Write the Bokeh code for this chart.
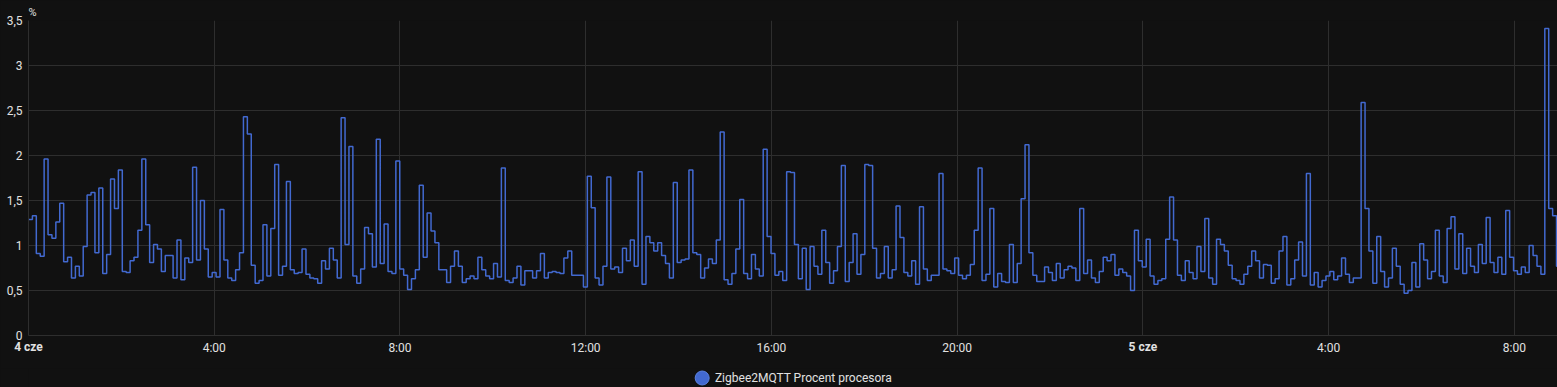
from bokeh.plotting import figure
from bokeh.layouts import column
from bokeh.models import FixedTicker, Range1d, LinearAxis, GlobalInlineStyleSheet
from bokeh.core.properties import value
from bokeh.embed import file_html
from bokeh.resources import INLINE

# ---------------- data ----------------
series_name = "Zigbee2MQTT Procent procesora"
unit_label = "%"

# CPU usage samples, one every SAMPLE_MINUTES starting 4 cze 00:00
cpu_percent = [
    1.29, 1.33, 0.91, 0.88, 1.96, 1.12, 1.08, 1.26, 1.47, 0.82,
    0.87, 0.64, 0.77, 0.66, 0.99, 1.56, 1.59, 0.92, 1.64, 0.69,
    0.90, 1.74, 1.41, 1.84, 0.71, 0.70, 0.83, 0.87, 1.17, 1.96,
    1.23, 0.81, 1.01, 0.96, 0.71, 0.89, 0.89, 0.64, 1.06, 0.62,
    0.86, 0.81, 1.87, 0.84, 1.50, 0.96, 0.65, 0.70, 0.65, 1.40,
    0.84, 0.64, 0.61, 0.73, 0.92, 2.43, 2.24, 0.78, 0.58, 0.61,
    1.23, 0.66, 1.19, 1.90, 0.67, 0.77, 1.71, 0.73, 0.69, 0.70,
    0.96, 0.68, 0.64, 0.63, 0.58, 0.83, 0.74, 0.97, 0.84, 0.64,
    2.42, 1.01, 2.10, 0.66, 0.58, 0.74, 1.20, 1.13, 0.76, 2.18,
    0.80, 1.24, 0.71, 0.69, 1.94, 0.74, 0.67, 0.51, 0.63, 0.73,
    1.67, 0.87, 1.36, 1.16, 1.03, 0.73, 0.73, 0.59, 0.77, 0.94,
    0.77, 0.59, 0.63, 0.66, 0.63, 0.87, 0.73, 0.66, 0.63, 0.80,
    0.65, 1.86, 0.61, 0.59, 0.64, 0.77, 0.56, 0.72, 0.72, 0.64,
    0.72, 0.91, 0.64, 0.70, 0.71, 0.70, 0.69, 0.86, 0.94, 0.67,
    0.67, 0.67, 0.54, 1.77, 1.42, 0.64, 0.56, 0.77, 1.76, 0.74,
    0.76, 0.70, 0.97, 0.83, 1.06, 0.77, 1.82, 0.57, 1.10, 1.03,
    0.94, 1.03, 0.89, 0.80, 0.64, 1.70, 0.81, 0.84, 0.85, 1.84,
    0.92, 0.90, 0.64, 0.75, 0.85, 0.80, 1.06, 2.26, 0.62, 0.57,
    0.69, 0.96, 1.51, 0.69, 0.63, 0.90, 0.74, 0.66, 2.07, 1.10,
    0.91, 0.67, 0.71, 0.61, 1.82, 1.81, 1.01, 0.63, 0.97, 0.51,
    0.99, 0.77, 0.68, 1.17, 0.81, 0.58, 0.72, 0.99, 1.89, 0.60,
    0.81, 1.13, 0.68, 0.90, 1.90, 1.89, 0.97, 0.64, 0.69, 0.99,
    0.64, 0.73, 1.44, 1.09, 0.70, 0.66, 0.83, 0.57, 1.43, 0.74,
    0.61, 0.67, 0.67, 1.80, 0.74, 0.72, 0.69, 0.86, 0.67, 0.63,
    0.67, 0.79, 1.17, 1.86, 0.61, 0.68, 1.41, 0.54, 0.69, 0.60,
    0.59, 1.01, 0.59, 0.80, 1.52, 2.12, 0.92, 0.67, 0.60, 0.60,
    0.76, 0.70, 0.61, 0.80, 0.64, 0.73, 0.77, 0.75, 0.61, 1.41,
    0.69, 0.84, 0.64, 0.59, 0.71, 0.87, 0.83, 0.90, 0.67, 0.74,
    0.70, 0.66, 0.50, 1.17, 0.83, 0.76, 1.07, 0.66, 0.57, 0.61,
    0.63, 1.07, 1.54, 1.06, 0.67, 0.61, 0.83, 0.70, 0.63, 0.99,
    0.71, 1.30, 0.64, 0.57, 1.07, 1.01, 0.94, 0.78, 0.63, 0.61,
    0.57, 0.68, 0.77, 0.94, 0.83, 0.64, 0.79, 0.78, 0.58, 0.63,
    0.94, 1.10, 0.56, 0.63, 0.84, 1.04, 0.66, 1.80, 0.56, 0.70,
    0.54, 0.61, 0.66, 0.71, 0.62, 0.66, 0.86, 0.68, 0.59, 0.64,
    0.64, 2.59, 1.41, 0.94, 0.58, 1.10, 0.71, 0.54, 0.64, 0.97,
    0.77, 0.57, 0.47, 0.50, 0.81, 0.54, 1.02, 0.84, 0.63, 0.71,
    1.17, 0.66, 0.59, 1.19, 1.32, 0.74, 1.13, 0.69, 0.97, 0.77,
    0.70, 1.01, 0.80, 1.31, 0.81, 0.70, 0.87, 0.68, 1.39, 0.87,
    0.72, 0.68, 0.76, 0.70, 1.00, 0.89, 0.77, 0.68, 3.41, 1.41,
    1.33, 0.77,
]
SAMPLE_MINUTES = 5.05          # recording interval
END_HOURS = 32.93              # "now": 5 cze ~08:56, hours after 4 cze 00:00

x_tick_hours = [0, 4, 8, 12, 16, 20, 24, 28, 32]
x_tick_labels = ["4 cze", "4:00", "8:00", "12:00", "16:00", "20:00",
                 "5 cze", "4:00", "8:00"]
day_tick_hours = [0, 24]          # these labels are bold

y_ticks = [0, 0.5, 1, 1.5, 2, 2.5, 3, 3.5]
y_tick_labels = ["0", "0,5", "1", "1,5", "2", "2,5", "3", "3,5"]

# ---------------- styling / layout ----------------
BG = "#111111"
GRID = "#2e2e2e"
TEXT = "#e1e1e1"
LINE = "#4269d0"
FONT = "Roboto"
W = 1557
MAIN_H = 368
LEGEND_H = 19
LEGEND_MARK_X = 686      # legend strip pixel layout
LEGEND_TEXT_X = 699

hours = [i * SAMPLE_MINUTES / 60.0 for i in range(len(cpu_percent))] + [END_HOURS]
values = cpu_percent + [cpu_percent[-1]]

p = figure(width=W, height=MAIN_H, output_backend="svg", toolbar_location=None,
           x_range=Range1d(0, END_HOURS), y_range=Range1d(0, 3.5),
           min_border_left=28, min_border_right=0, min_border_top=20,
           min_border_bottom=MAIN_H - 335)
p.stylesheets = [GlobalInlineStyleSheet(
    css="html,body{margin:0;padding:0;background:#111111;overflow:hidden;}")]

p.background_fill_color = BG
p.border_fill_color = BG
p.outline_line_color = None

p.step(hours, values, mode="after", line_color=LINE, line_width=1.5)

# unit label above the y axis
p.title.text = unit_label
p.title.align = "left"
p.title.text_font = FONT
p.title.text_font_size = "11px"
p.title.text_font_style = "normal"
p.title.text_color = TEXT
p.title.standoff = 3
p.title.offset = 0

# axes
p.xaxis.ticker = FixedTicker(ticks=x_tick_hours)
p.xaxis.major_label_overrides = {
    h: ("" if h in day_tick_hours else lab) for h, lab in zip(x_tick_hours, x_tick_labels)
}
p.yaxis.ticker = FixedTicker(ticks=y_ticks)
p.yaxis.major_label_overrides = {t: lab for t, lab in zip(y_ticks, y_tick_labels)}

# second x axis carrying only the bold day labels, pulled up onto the same row
day_axis = LinearAxis(ticker=FixedTicker(ticks=day_tick_hours),
                      major_label_overrides={h: lab for h, lab in zip(x_tick_hours, x_tick_labels)
                                             if h in day_tick_hours})
p.add_layout(day_axis, "below")

for ax in (p.xaxis[0], p.yaxis[0], day_axis):
    ax.axis_line_color = GRID
    ax.major_tick_line_color = None
    ax.minor_tick_line_color = None
    ax.major_tick_out = 0
    ax.major_tick_in = 0
    ax.major_label_text_color = TEXT
    ax.major_label_text_font = FONT
    ax.major_label_text_font_size = "12px"
day_axis.axis_line_color = None
p.xaxis[0].major_label_standoff = 5
day_axis.major_label_standoff = -18
day_axis.major_label_text_font_style = "bold"
p.yaxis[0].major_label_standoff = 6

p.xgrid.ticker = FixedTicker(ticks=x_tick_hours)
p.ygrid.ticker = FixedTicker(ticks=y_ticks)
p.xgrid.grid_line_color = GRID
p.ygrid.grid_line_color = GRID

# legend strip below the chart
lg = figure(width=W, height=LEGEND_H, output_backend="svg", toolbar_location=None,
            x_range=Range1d(0, W), y_range=Range1d(0, LEGEND_H), min_border=0)
lg.background_fill_color = BG
lg.border_fill_color = BG
lg.outline_line_color = None
lg.axis.visible = False
lg.grid.visible = False
lg.scatter(x=[LEGEND_MARK_X], y=[LEGEND_H / 2], marker="circle", size=14,
           fill_color=LINE, line_color="#5b82e0")
lg.text(x=[LEGEND_TEXT_X], y=[LEGEND_H / 2], text=[series_name],
        text_font=value(FONT), text_font_size="12px", text_color=TEXT,
        text_align="left", text_baseline="middle")

layout = column(p, lg, spacing=0)
open("out.html", "w").write(file_html(layout, INLINE))
